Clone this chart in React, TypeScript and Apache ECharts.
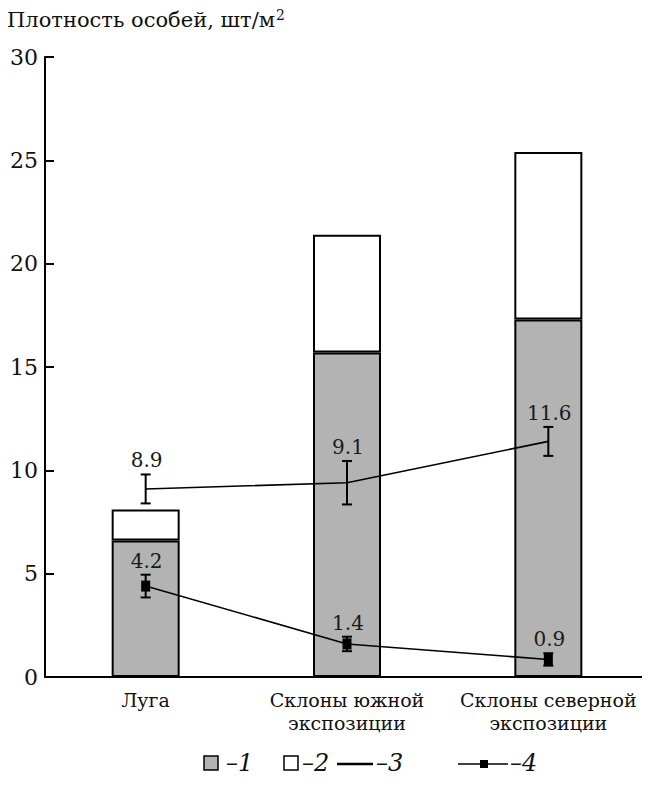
import React, { useEffect, useRef } from "react";
import * as echarts from "echarts";

const categories = ["Луга", "Склоны южной\nэкспозиции", "Склоны северной\nэкспозиции"];
const series1Values = [6.6, 15.7, 17.3]; // grey part (1)
const series2Values = [1.5, 5.7, 8.1]; // white part (2), stacked on top
const series3Values = [9.1, 9.4, 11.4];
const series3Errors = [0.7, 1.05, 0.7];
const series3Labels = ["8.9", "9.1", "11.6"];
const series4Values = [4.4, 1.6, 0.85];
const series4Errors = [0.55, 0.35, 0.3];
const series4Labels = ["4.2", "1.4", "0.9"];
const yTicks = [0, 5, 10, 15, 20, 25, 30];
const legendLabels = ["–1", "–2", "–3", "–4"];

const SERIF = "DejaVu Serif";

function errorSeries(values: number[], errs: number[], labels: string[]) {
  return {
    type: "custom",
    z: 5,
    data: values.map((v, i) => [i, v, errs[i]]),
    renderItem: (params: any, api: any) => {
      const x = api.value(0);
      const v = api.value(1);
      const e = api.value(2);
      const hi = api.coord([x, v + e]);
      const lo = api.coord([x, v - e]);
      const cap = 5;
      const st = { stroke: "#000", lineWidth: 2 };
      return {
        type: "group",
        children: [
          { type: "line", shape: { x1: hi[0], y1: hi[1], x2: lo[0], y2: lo[1] }, style: st },
          { type: "line", shape: { x1: hi[0] - cap, y1: hi[1], x2: hi[0] + cap, y2: hi[1] }, style: st },
          { type: "line", shape: { x1: lo[0] - cap, y1: lo[1], x2: lo[0] + cap, y2: lo[1] }, style: st },
          {
            type: "text",
            x: hi[0] + 1,
            y: hi[1] - 4,
            style: {
              text: labels[params.dataIndex],
              align: "center",
              verticalAlign: "bottom",
              fontFamily: SERIF,
              fontSize: 20,
              fill: "#1a1a1a",
            },
          },
        ],
      };
    },
  };
}

export default function App() {
  const ref = useRef<HTMLDivElement>(null);
  useEffect(() => {
    if (!ref.current) return;
    const chart = echarts.init(ref.current, null, { renderer: "svg" });
    const legY = 763;
    const legText = (x: number, t: string) => ({
      type: "text",
      x,
      y: legY,
      style: { text: t, fontFamily: SERIF, fontStyle: "italic", fontSize: 24, fill: "#111", verticalAlign: "middle" },
    });
    chart.setOption({
      animation: false,
      backgroundColor: "#fff",
      textStyle: { fontFamily: SERIF },
      grid: { left: 45, right: 1, top: 57, bottom: 119 },
      xAxis: {
        type: "category",
        data: categories,
        axisLine: { lineStyle: { color: "#000", width: 2 } },
        axisTick: { inside: true, length: 9, lineStyle: { color: "#000", width: 2 } },
        axisLabel: {
          interval: 0,
          hideOverlap: false,
          color: "#111",
          fontFamily: SERIF,
          fontSize: 19,
          lineHeight: 23,
          margin: 11,
        },
      },
      yAxis: {
        type: "value",
        min: yTicks[0],
        max: yTicks[yTicks.length - 1],
        interval: 5,
        splitLine: { show: false },
        axisLine: { show: true, lineStyle: { color: "#000", width: 2 } },
        axisTick: { show: true, inside: true, length: 9, lineStyle: { color: "#000", width: 2 } },
        axisLabel: { color: "#111", fontFamily: SERIF, fontSize: 22, margin: 7 },
      },
      series: [
        {
          type: "bar",
          stack: "total",
          data: series1Values,
          barWidth: 68,
          itemStyle: { color: "#b3b3b3", borderColor: "#000", borderWidth: 2 },
        },
        {
          type: "bar",
          stack: "total",
          data: series2Values,
          barWidth: 68,
          itemStyle: { color: "#fff", borderColor: "#000", borderWidth: 2 },
        },
        {
          type: "line",
          data: series3Values,
          symbol: "none",
          z: 4,
          lineStyle: { color: "#000", width: 1.6 },
        },
        {
          type: "line",
          data: series4Values,
          symbol: "rect",
          symbolSize: [9, 11],
          z: 4,
          itemStyle: { color: "#000" },
          lineStyle: { color: "#000", width: 1.6 },
        },
        errorSeries(series3Values, series3Errors, series3Labels),
        errorSeries(series4Values, series4Errors, series4Labels),
      ],
      graphic: [
        {
          type: "text",
          left: 7,
          top: 8,
          style: {
            text: "{a|Плотность особей, шт/м}{s|2}",
            rich: {
              a: { fontFamily: SERIF, fontSize: 21, fill: "#111" },
              s: { fontFamily: SERIF, fontSize: 14, fill: "#111", padding: [0, 0, 10, 1] },
            },
          },
        },
        // legend
        { type: "rect", shape: { x: 204, y: legY - 7, width: 14, height: 14 }, style: { fill: "#b3b3b3", stroke: "#000", lineWidth: 1.5 } },
        legText(226, legendLabels[0]),
        { type: "rect", shape: { x: 284, y: legY - 7, width: 14, height: 14 }, style: { fill: "#fff", stroke: "#000", lineWidth: 1.5 } },
        legText(302, legendLabels[1]),
        { type: "line", shape: { x1: 337, y1: legY + 1, x2: 373, y2: legY + 1 }, style: { stroke: "#000", lineWidth: 2.5 } },
        legText(376, legendLabels[2]),
        { type: "line", shape: { x1: 458, y1: legY + 1, x2: 508, y2: legY + 1 }, style: { stroke: "#000", lineWidth: 1.5 } },
        { type: "rect", shape: { x: 480, y: legY - 3, width: 8, height: 8 }, style: { fill: "#000" } },
        legText(510, legendLabels[3]),
      ],
    });
    return () => chart.dispose();
  }, []);
  return <div ref={ref} style={{ width: 650, height: 796, margin: -8 }} />;
}
